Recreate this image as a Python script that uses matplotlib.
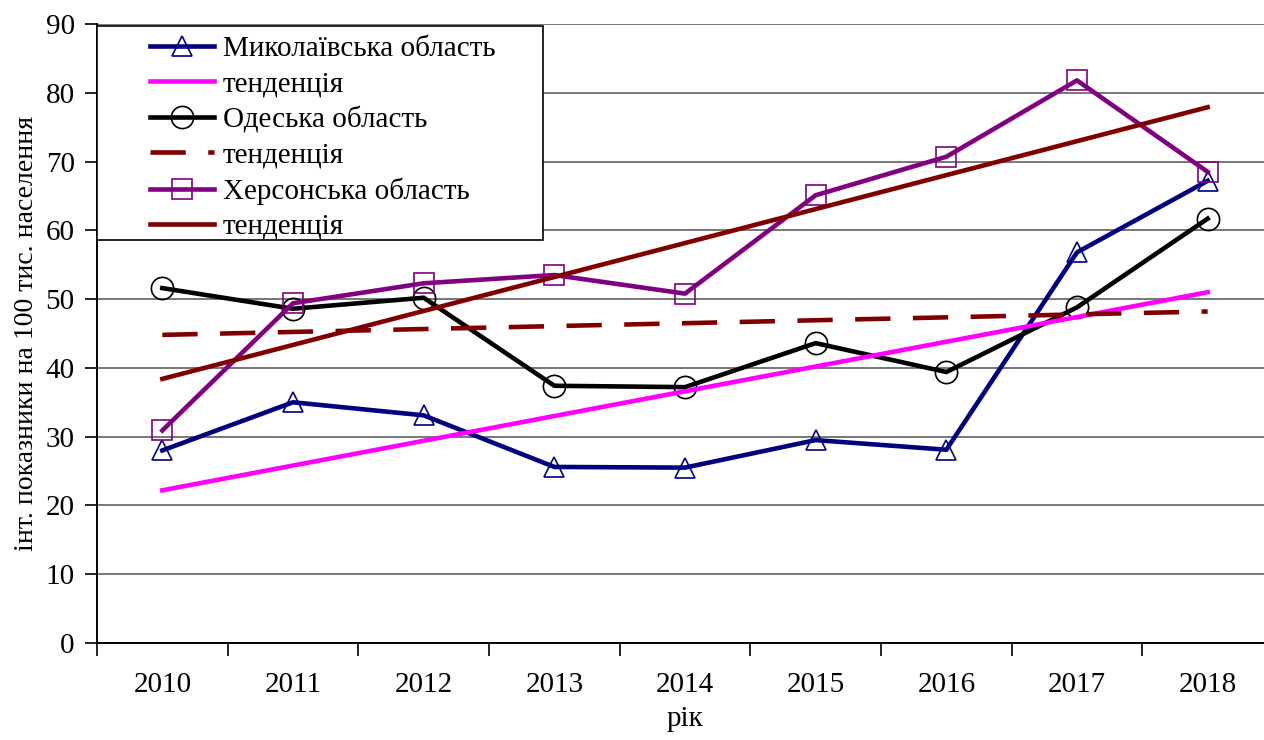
import matplotlib

matplotlib.use("Agg")

import matplotlib.pyplot as plt
from matplotlib.patches import Rectangle

plt.rcParams["font.family"] = ["Liberation Serif", "DejaVu Serif"]

years = ["2010", "2011", "2012", "2013", "2014", "2015", "2016", "2017", "2018"]

mykolaiv = [28.0, 35.0, 33.1, 25.6, 25.5, 29.5, 28.1, 56.8, 67.2]
odesa = [51.6, 48.6, 50.2, 37.4, 37.2, 43.6, 39.4, 48.8, 61.7]
kherson = [30.9, 49.4, 52.3, 53.5, 50.8, 65.1, 70.7, 81.8, 68.5]

# trend lines: values at the first and last year
mykolaiv_trend = [22.2, 51.0]
odesa_trend = [44.8, 48.2]
kherson_trend = [38.4, 77.9]

legend_labels = [
    "Миколаївська область",
    "тенденція",
    "Одеська область",
    "тенденція",
    "Херсонська область",
    "тенденція",
]

fig = plt.figure(figsize=(12.64, 7.40), dpi=100)
ax = fig.add_axes([97 / 1264, 1 - 643 / 740, 1176 / 1264, 619 / 740])

x = list(range(len(years)))
ends = [x[0], x[-1]]
lw = 3.3

h_myk, = ax.plot(x, mykolaiv, color="#000080", lw=lw, marker="^", ms=14,
                 mfc="none", mec="#000080", mew=1.2, zorder=3)
h_ode, = ax.plot(x, odesa, color="black", lw=lw, marker="o", ms=16,
                 mfc="none", mec="black", mew=1.2, zorder=3)
h_khe, = ax.plot(x, kherson, color="#800080", lw=lw, marker="s", ms=14,
                 mfc="none", mec="#800080", mew=1.2, zorder=3)

h_myk_t, = ax.plot(ends, mykolaiv_trend, color="#FF00FF", lw=lw, zorder=4)
h_ode_t, = ax.plot(ends, odesa_trend, color="#800000", lw=lw, zorder=4,
                   dashes=(7.7, 4.9), dash_capstyle="butt")
h_khe_t, = ax.plot(ends, kherson_trend, color="#800000", lw=lw, zorder=4)

ax.set_xlim(-0.5, len(years) - 0.5)
ax.set_ylim(0, 90)
ax.set_yticks(range(0, 91, 10))
ax.tick_params(axis="y", labelsize=21, length=9, width=1.2, direction="out", pad=7)

# category boundaries carry the tick marks, centres carry the labels
ax.set_xticks([i - 0.5 for i in range(len(years) + 1)])
ax.set_xticklabels([])
ax.set_xticks(x, minor=True)
ax.set_xticklabels(years, minor=True)
ax.tick_params(axis="x", which="major", length=9, width=1.2, direction="out")
ax.tick_params(axis="x", which="minor", length=0, labelsize=21, pad=21)

ax.grid(axis="y", color="#606060", lw=1.2)
ax.set_axisbelow(True)
for side in ("top", "right"):
    ax.spines[side].set_visible(False)
for side in ("left", "bottom"):
    ax.spines[side].set_linewidth(1.4)

ax.set_xlabel("рік", fontsize=21, labelpad=6)
ax.set_ylabel("інт. показники на 100 тис. населення", fontsize=20, labelpad=5)

# legend box
box = Rectangle((0, (643 - 240) / 619), (543 - 97) / 1176, (240 - 26) / 619,
                transform=ax.transAxes, facecolor="white", edgecolor="black",
                lw=1.2, zorder=5)
ax.add_patch(box)

handles = [h_myk, h_myk_t, h_ode, h_ode_t, h_khe, h_khe_t]
leg = ax.legend(handles, legend_labels, loc="upper left",
                bbox_to_anchor=((150 - 97) / 1176, (643 - 36) / 619),
                frameon=False, fontsize=21, numpoints=1, handlelength=2.2,
                handletextpad=0.3, labelspacing=0.3, borderpad=0,
                borderaxespad=0)
leg.set_zorder(6)

fig.savefig("out.png", dpi=100)
